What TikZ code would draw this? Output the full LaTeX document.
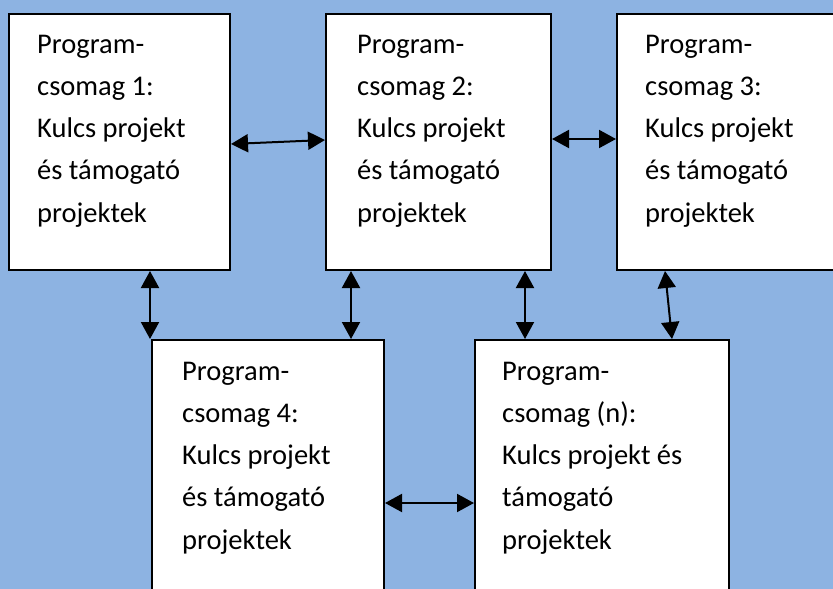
\documentclass[tikz,border=0pt]{standalone}
\usepackage{fontspec}
\setmainfont{Carlito}
\usetikzlibrary{arrows.meta}
\definecolor{bgblue}{HTML}{8DB3E2}
\newcommand\pkgtext[1]{\parbox[t]{260pt}{\fontsize{28.5pt}{42.3pt}\selectfont #1}}
\begin{document}
\begin{tikzpicture}[x=1pt,y=-1pt,
  pbox/.style={draw=black, line width=2pt, fill=white, rectangle, inner sep=0pt, anchor=north west},
  ptext/.style={anchor=base west, inner sep=0pt},
  link/.style={line width=2pt, {Triangle[length=17pt,width=18pt]}-{Triangle[length=17pt,width=18pt]}}]
\fill[bgblue] (0,0) rectangle (833,589);
\useasboundingbox (0,0) rectangle (833,589);
\clip (0,0) rectangle (833,589);
% boxes
\node[pbox, minimum width=221pt, minimum height=256pt] (b1) at (8,13) {};
\node[pbox, minimum width=225pt, minimum height=256pt] (b2) at (325,13) {};
\node[pbox, minimum width=234pt, minimum height=256pt] (b3) at (616,13) {};
\node[pbox, minimum width=232pt, minimum height=281pt] (b4) at (151,339) {};
\node[pbox, minimum width=254pt, minimum height=281pt] (b5) at (474,339) {};
% texts
\node[ptext] (t1) at (37,53) {\pkgtext{Program-\\csomag 1:\\Kulcs projekt\\és támogató\\projektek}};
\node[ptext] (t2) at (357,53) {\pkgtext{Program-\\csomag 2:\\Kulcs projekt\\és támogató\\projektek}};
\node[ptext] (t3) at (645,53) {\pkgtext{Program-\\csomag 3:\\Kulcs projekt\\és támogató\\projektek}};
\node[ptext] (t4) at (182,380) {\pkgtext{Program-\\csomag 4:\\Kulcs projekt\\és támogató\\projektek}};
\node[ptext] (t5) at (502,380) {\pkgtext{Program-\\csomag (n):\\Kulcs projekt és\\támogató\\projektek}};
% horizontal connectors
\draw[link] ([yshift=-2pt]b1.east) -- ([yshift=2pt]b2.west);
\draw[link] ([yshift=3pt]b2.east) -- ([yshift=3pt]b3.west);
\draw[link] ([yshift=-22.5pt]b4.east) -- ([yshift=-22.5pt]b5.west);
% vertical connectors
\coordinate (v1) at ([xshift=-1pt]b4.north west);
\coordinate (v2) at ([xshift=-34pt]b4.north east);
\coordinate (v3) at ([xshift=51pt]b5.north west);
\coordinate (v4t) at ([xshift=49pt]b3.south west);
\coordinate (v4b) at ([xshift=-58pt]b5.north east);
\draw[link] (b1.south -| v1) -- (v1);
\draw[link] (b2.south -| v2) -- (v2);
\draw[link] (b2.south -| v3) -- (v3);
\draw[link] (v4t) -- (v4b);
\end{tikzpicture}
\end{document}
